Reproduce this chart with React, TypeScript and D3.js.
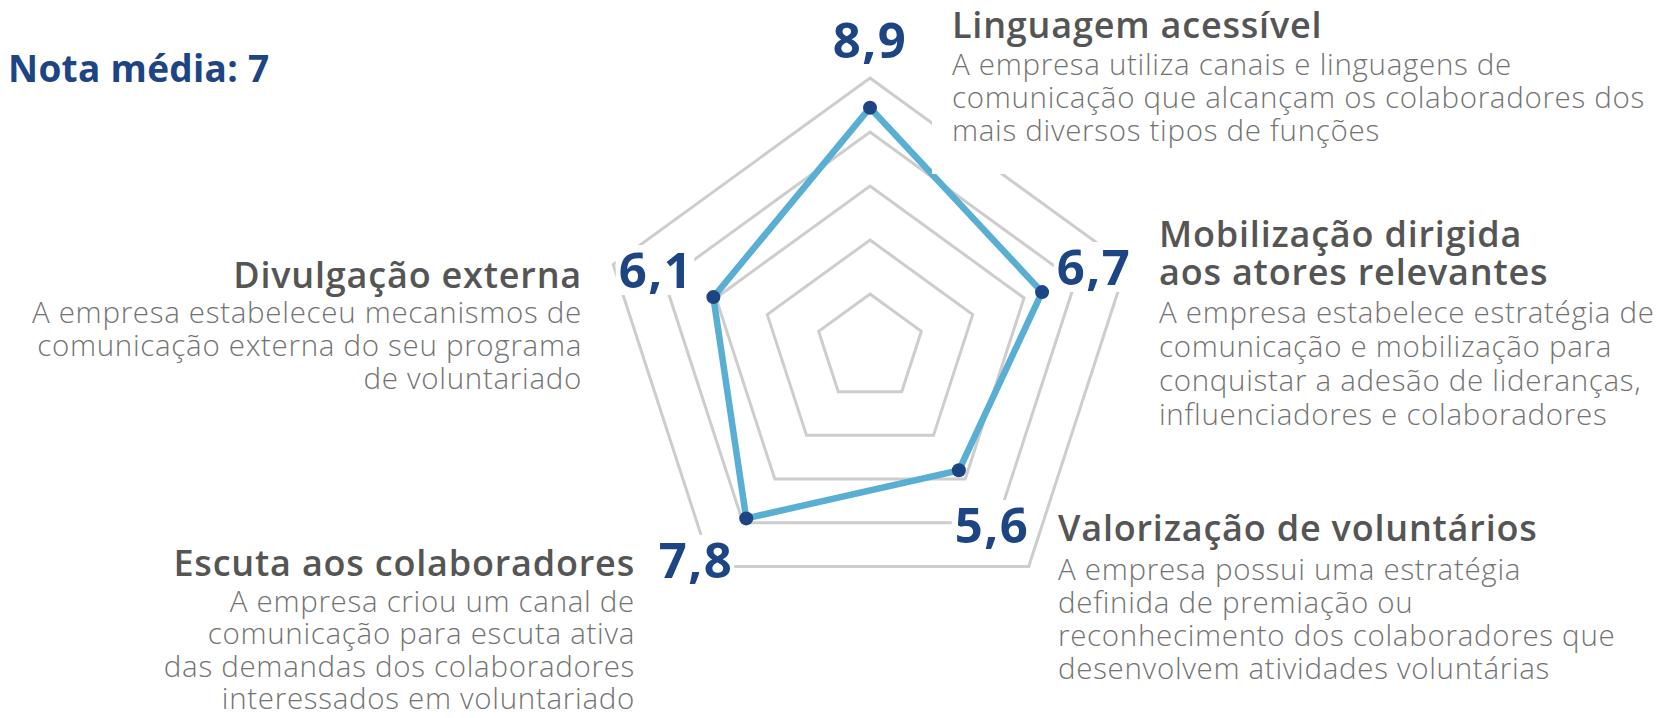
import React, { useEffect, useRef } from "react";
import * as d3 from "d3";

// dados
const titles = [
  ["Linguagem acessível"],
  ["Mobilização dirigida", "aos atores relevantes"],
  ["Valorização de voluntários"],
  ["Escuta aos colaboradores"],
  ["Divulgação externa"],
];
const descriptions = [
  [
    "A empresa utiliza canais e linguagens de",
    "comunicação que alcançam os colaboradores dos",
    "mais diversos tipos de funções",
  ],
  [
    "A empresa estabelece estratégia de",
    "comunicação e mobilização para",
    "conquistar a adesão de lideranças,",
    "influenciadores e colaboradores",
  ],
  [
    "A empresa possui uma estratégia",
    "definida de premiação ou",
    "reconhecimento dos colaboradores que",
    "desenvolvem atividades voluntárias",
  ],
  [
    "A empresa criou um canal de",
    "comunicação para escuta ativa",
    "das demandas dos colaboradores",
    "interessados em voluntariado",
  ],
  [
    "A empresa estabeleceu mecanismos de",
    "comunicação externa do seu programa",
    "de voluntariado",
  ],
];
const values = [8.9, 6.7, 5.6, 7.8, 6.1];
const gridLevels = [2, 4, 6, 8, 10];
const averageLabel = "Nota média: 7";

// layout (px)
const W = 1662;
const H = 718;
const cx = 870;
const cy = 348;
const outerR = 270;
const blocks = [
  { x: 952, anchor: "start", titleY: [38], descY: 75, lineH: 33, padL: 20, padB: 24 },
  { x: 1159, anchor: "start", titleY: [247, 285], descY: 323, lineH: 34, padL: 6, padB: 6 },
  { x: 1058, anchor: "start", titleY: [541], descY: 580, lineH: 33, padL: 4, padB: 6 },
  { x: 635, anchor: "end", titleY: [576], descY: 612, lineH: 32.3, padL: 6, padB: 6 },
  { x: 582, anchor: "end", titleY: [288], descY: 323, lineH: 33, padL: 6, padB: 6 },
];
const valuePos = [
  { x: 870, y: 58 },
  { x: 1094, y: 285 },
  { x: 992, y: 543 },
  { x: 696, y: 578 },
  { x: 656, y: 288 },
];

const NAVY = "#1e4583";
const FONT = "'Open Sans', 'Noto Sans', sans-serif";

const App = () => {
  const svgRef = useRef(null);

  useEffect(() => {
    const root = d3.select(svgRef.current);
    root.selectAll("*").remove();

    const n = values.length;
    const angle = (i) => (i * 2 * Math.PI) / n;
    const r = d3.scaleLinear().domain([0, 10]).range([0, outerR]);
    const fmt = d3.formatLocale({ decimal: ",", thousands: ".", grouping: [3], currency: ["R$", ""] }).format(".1f");

    root.append("rect").attr("width", W).attr("height", H).attr("fill", "#fff");

    const g = root.append("g").attr("transform", `translate(${cx},${cy})`);

    // grade
    const gridLine = d3
      .lineRadial()
      .angle((d) => d[0])
      .radius((d) => d[1])
      .curve(d3.curveLinearClosed);
    g.selectAll(".grid")
      .data(gridLevels)
      .join("path")
      .attr("class", "grid")
      .attr("d", (lv) => gridLine(d3.range(n).map((i) => [angle(i), r(lv)])))
      .attr("fill", "none")
      .attr("stroke", "#cdcdcd")
      .attr("stroke-width", 3);

    // blocos de texto
    blocks.forEach((b, i) => {
      const tg = root.append("g");
      const bg = tg.append("rect").attr("fill", "#fff");
      titles[i].forEach((t, k) => {
        tg.append("text")
          .attr("x", b.x)
          .attr("y", b.titleY[k])
          .attr("text-anchor", b.anchor)
          .style("font-family", FONT)
          .style("font-weight", 600)
          .style("font-size", "36px")
          .style("letter-spacing", "0.8px")
          .style("fill", "#555555")
          .text(t);
      });
      descriptions[i].forEach((t, k) => {
        tg.append("text")
          .attr("x", b.x)
          .attr("y", b.descY + k * b.lineH)
          .attr("text-anchor", b.anchor)
          .style("font-family", FONT)
          .style("font-weight", 300)
          .style("font-size", "29.5px")
          .style("letter-spacing", "0.7px")
          .style("fill", "#737373")
          .text(t);
      });
      const bb = tg.node().getBBox();
      const padL = b.anchor === "start" ? b.padL : 6;
      const padR = b.anchor === "end" ? b.padL : 6;
      bg.attr("x", bb.x - padL)
        .attr("y", bb.y - 2)
        .attr("width", bb.width + padL + padR)
        .attr("height", bb.height + 2 + b.padB);
    });

    // série
    const pts = values.map((v, i) => d3.pointRadial(angle(i), r(v)));
    g.append("path")
      .attr("d", d3.line().curve(d3.curveLinearClosed)(pts))
      .attr("fill", "none")
      .attr("stroke", "#58aed3")
      .attr("stroke-width", 6.5)
      .attr("stroke-linejoin", "miter");
    g.selectAll(".dot")
      .data(pts)
      .join("circle")
      .attr("class", "dot")
      .attr("cx", (d) => d[0])
      .attr("cy", (d) => d[1])
      .attr("r", 7)
      .attr("fill", NAVY);

    // valores
    values.forEach((v, i) => {
      const vg = root.append("g");
      const bg = vg.append("rect").attr("fill", "#fff");
      vg.append("text")
        .attr("x", valuePos[i].x)
        .attr("y", valuePos[i].y)
        .attr("text-anchor", "middle")
        .style("font-family", FONT)
        .style("font-weight", 700)
        .style("font-size", "49px")
        .style("letter-spacing", "1.5px")
        .style("fill", NAVY)
        .text(fmt(v));
      const bb = vg.select("text").node().getBBox();
      bg.attr("x", bb.x - 3).attr("y", bb.y + 9).attr("width", bb.width + 4).attr("height", bb.height - 16);
    });

    root
      .append("text")
      .attr("x", 8)
      .attr("y", 82)
      .style("font-family", FONT)
      .style("font-weight", 700)
      .style("font-size", "37px")
      .style("letter-spacing", "0.3px")
      .style("fill", NAVY)
      .text(averageLabel);
  }, []);

  return (
    <div style={{ position: "absolute", left: 0, top: 0 }}>
      <svg ref={svgRef} width={W} height={H} style={{ display: "block" }}></svg>
    </div>
  );
};

export default App;
